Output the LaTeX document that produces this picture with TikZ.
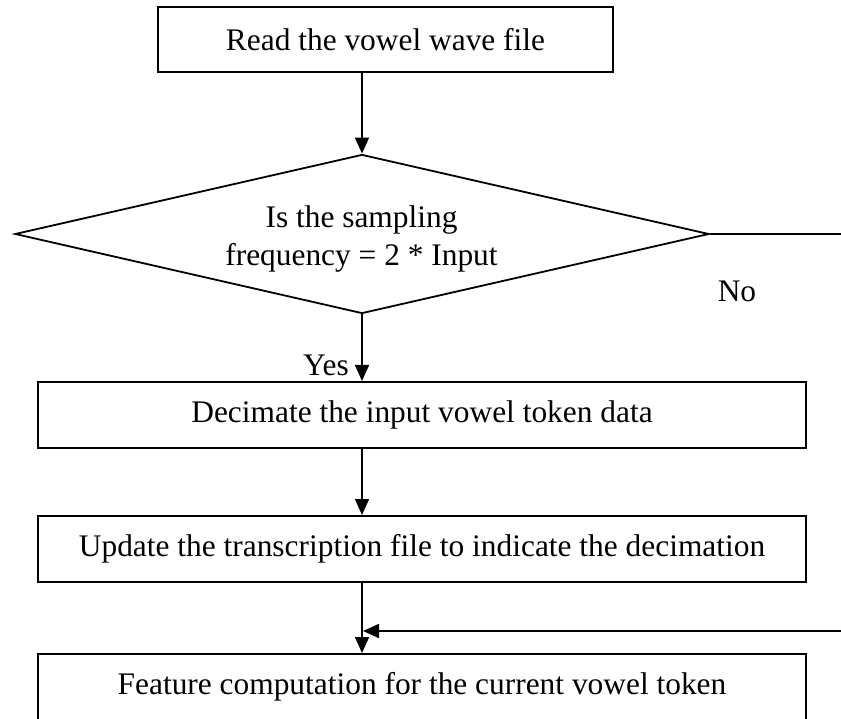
\documentclass[tikz,border=0pt]{standalone}
\usepackage{fontspec}
\setmainfont{Liberation Serif}
\usetikzlibrary{arrows.meta,shapes.geometric}

\begin{document}
\begin{tikzpicture}[x=1pt,y=-1pt,
		font=\fontsize{31.4}{38}\selectfont,
		procbox/.style={draw, line width=2pt, inner sep=0pt, minimum height=66pt},
		arr/.style={line width=1.6pt, -{Triangle[length=16pt,width=14pt]}}]
			%%%%% START %%%%%
			\useasboundingbox (0, 0) rectangle (841, 719);
			
			\node[procbox, minimum width=455pt, minimum height=65pt] (read) at (385.5, 39.5) {Read the vowel wave file};
			
			\node[draw, diamond, line width=1.8pt, inner sep=0pt, minimum width=694pt, minimum height=159pt] (dec) at (362, 234) {};
			\node[align=center, inner sep=0pt] (dectext) at (361.5, 239) {Is the sampling\\frequency = 2 * Input};
			
			\node[procbox, minimum width=768pt] (decim) at (422, 415) {Decimate the input vowel token data};
			\node[procbox, minimum width=768pt] (upd) at (422, 549) {Update the transcription file to indicate the decimation};
			\node[procbox, minimum width=768pt] (feat) at (422, 687) {Feature computation for the current vowel token};
			
			\node (yes) at (326, 365) {Yes};
			\node (no) at (737, 291) {No};
			
			\coordinate (noend) at (841, 234);
			\coordinate (loop) at (841, 631);
			
			\draw[arr] (dec.north |- read.south) -- (dec.north);
			\draw[arr] (dec.south) -- (dec.south |- decim.north);
			\draw[arr] (dec.south |- decim.south) -- (dec.south |- upd.north);
			\draw[arr] (dec.south |- upd.south) -- (dec.south |- feat.north);
			
			\draw[line width=1.6pt] (dec.east) -- (noend);
			\draw[arr] (loop) -- ([xshift=1pt]loop -| dec.south);
			
			%%%%% END %%%%%
\end{tikzpicture}
\end{document}
